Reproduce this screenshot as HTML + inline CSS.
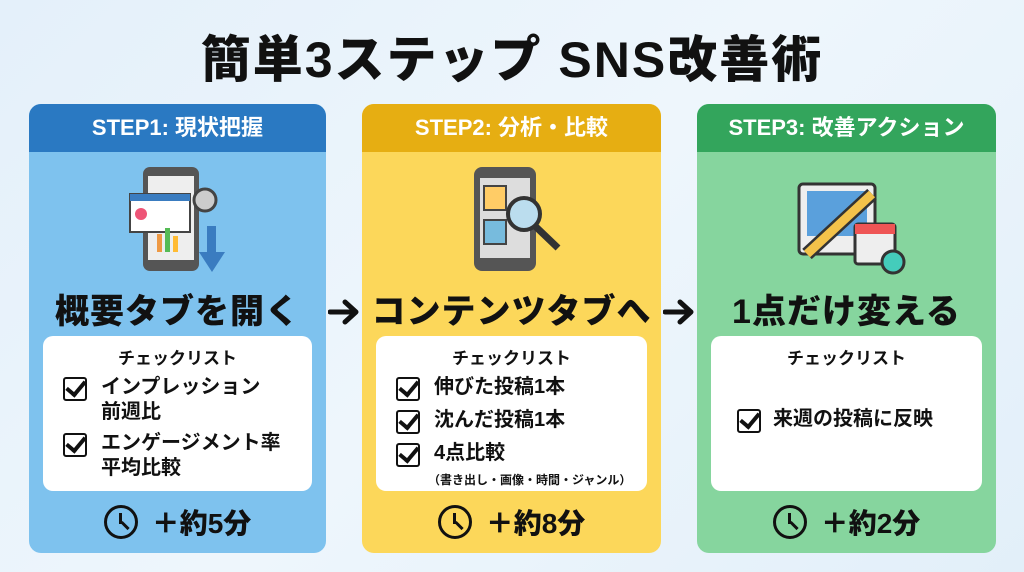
<!DOCTYPE html>
<html><head><meta charset="utf-8"><style>
*{margin:0;padding:0;box-sizing:border-box}
body{width:1024px;height:572px;overflow:hidden;background:linear-gradient(135deg,#e4f0fa,#eef6fc 50%,#e2eff9);font-family:"Liberation Sans","Noto Sans CJK JP",sans-serif;position:relative;color:#111}
.title{position:absolute;left:0;width:1024px;top:20px;text-align:center;font-size:50px;font-weight:900;letter-spacing:2px}
.card{position:absolute;top:104px;height:449px;border-radius:12px;overflow:hidden}
.hd{height:48px;color:#fff;font-weight:bold;font-size:22px;text-align:center;line-height:48px}
.icon{position:absolute;left:0;width:100%;top:60px;height:120px}
.st{position:absolute;left:0;width:100%;top:180px;text-align:center;font-size:34px;font-weight:900;letter-spacing:1px}
.box{position:absolute;left:14px;right:14px;top:232px;height:155px;background:#fff;border-radius:10px}
.cl{text-align:center;font-size:17px;font-weight:bold;margin-top:8px}
.it{position:relative;padding-left:58px;font-size:20px;font-weight:bold;line-height:25px;margin-top:6px}
.cb{position:absolute;left:20px;top:2px;width:24px;height:24px;border:2.5px solid #111;border-radius:3px}
.cb:after{content:"";position:absolute;left:5px;top:-2px;width:8px;height:15px;border-right:4px solid #111;border-bottom:4px solid #111;transform:rotate(40deg)}
.tm{position:absolute;left:0;width:100%;top:398px;text-align:center;font-size:28px;font-weight:900}
.clk{display:inline-block;width:34px;height:34px;border:3.5px solid #111;border-radius:50%;vertical-align:-6px;margin-right:14px;position:relative}
.clk:before{content:"";position:absolute;left:12px;top:5px;width:3px;height:11px;background:#111}
.clk:after{content:"";position:absolute;left:13px;top:14px;width:3px;height:10px;background:#111;transform:rotate(-45deg);transform-origin:top}
.arr{position:absolute;top:298px;width:32px;height:28px}
</style></head><body>
<div class="title">簡単3ステップ SNS改善術</div>

<div class="card" style="left:29px;width:297px;background:#7ec2ee">
<div class="hd" style="background:#2a79c2">STEP1: 現状把握</div>
<svg class="icon" viewBox="0 0 297 120"><rect x="114" y="3" width="56" height="104" rx="7" fill="#555" /><rect x="119" y="12" width="46" height="84" fill="#eee"/><rect x="101" y="30" width="60" height="38" fill="#fff" stroke="#444" stroke-width="2"/><rect x="101" y="30" width="60" height="7" fill="#3a7cc0"/><circle cx="112" cy="50" r="6" fill="#e57"/><rect x="128" y="70" width="5" height="18" fill="#e94"/><rect x="136" y="64" width="5" height="24" fill="#5b5"/><rect x="144" y="72" width="5" height="16" fill="#fb3"/><circle cx="176" cy="36" r="11" fill="#ccc" stroke="#444" stroke-width="3"/><rect x="178" y="62" width="9" height="28" fill="#3a7cc0"/><polygon points="170,88 196,88 183,108" fill="#3a7cc0"/></svg>
<div class="st">概要タブを開く</div>
<div class="box"><div class="cl">チェックリスト</div>
<div class="it"><span class="cb"></span>インプレッション<br>前週比</div>
<div class="it"><span class="cb"></span>エンゲージメント率<br>平均比較</div></div>
<div class="tm"><span class="clk"></span>＋約5分</div>
</div>
<svg class="arr" style="left:328px" viewBox="0 0 32 28"><path d="M2 14H27M17 4L28 14L17 24" fill="none" stroke="#111" stroke-width="5" stroke-linecap="round" stroke-linejoin="round"/></svg>

<div class="card" style="left:362px;width:299px;background:#fcd75a">
<div class="hd" style="background:#e6ae12">STEP2: 分析・比較</div>
<svg class="icon" viewBox="0 0 299 120"><rect x="112" y="3" width="62" height="104" rx="8" fill="#555"/><rect x="118" y="14" width="50" height="80" fill="#ddd"/><rect x="122" y="22" width="22" height="24" fill="#fc6" stroke="#444" stroke-width="2"/><rect x="122" y="56" width="22" height="24" fill="#7bd" stroke="#444" stroke-width="2"/><circle cx="162" cy="50" r="16" fill="#bde" stroke="#333" stroke-width="4"/><line x1="173" y1="62" x2="196" y2="84" stroke="#333" stroke-width="7"/></svg>
<div class="st">コンテンツタブへ</div>
<div class="box"><div class="cl">チェックリスト</div>
<div class="it"><span class="cb"></span>伸びた投稿1本</div>
<div class="it" style="margin-top:8px"><span class="cb"></span>沈んだ投稿1本</div>
<div class="it" style="margin-top:8px"><span class="cb"></span>4点比較<br><span style="font-size:12px;margin-left:-6px">（書き出し・画像・時間・ジャンル）</span></div></div>
<div class="tm"><span class="clk"></span>＋約8分</div>
</div>
<svg class="arr" style="left:663px" viewBox="0 0 32 28"><path d="M2 14H27M17 4L28 14L17 24" fill="none" stroke="#111" stroke-width="5" stroke-linecap="round" stroke-linejoin="round"/></svg>

<div class="card" style="left:697px;width:299px;background:#86d59e">
<div class="hd" style="background:#33a55c">STEP3: 改善アクション</div>
<svg class="icon" viewBox="0 0 299 120"><rect x="102" y="20" width="76" height="70" rx="4" fill="#eee" stroke="#333" stroke-width="3"/><rect x="110" y="27" width="60" height="45" fill="#5aa0dc"/><line x1="110" y1="90" x2="175" y2="30" stroke="#333" stroke-width="14"/><line x1="110" y1="90" x2="175" y2="30" stroke="#f3c24a" stroke-width="9"/><rect x="158" y="60" width="40" height="40" rx="3" fill="#eee" stroke="#333" stroke-width="3"/><rect x="158" y="60" width="40" height="10" fill="#e55"/><circle cx="196" cy="98" r="11" fill="#4cb" stroke="#333" stroke-width="3"/></svg>
<div class="st">1点だけ変える</div>
<div class="box"><div class="cl">チェックリスト</div>
<div class="it" style="margin-top:38px;padding-left:62px"><span class="cb" style="left:26px"></span>来週の投稿に反映</div></div>
<div class="tm"><span class="clk"></span>＋約2分</div>
</div>
</body></html>
